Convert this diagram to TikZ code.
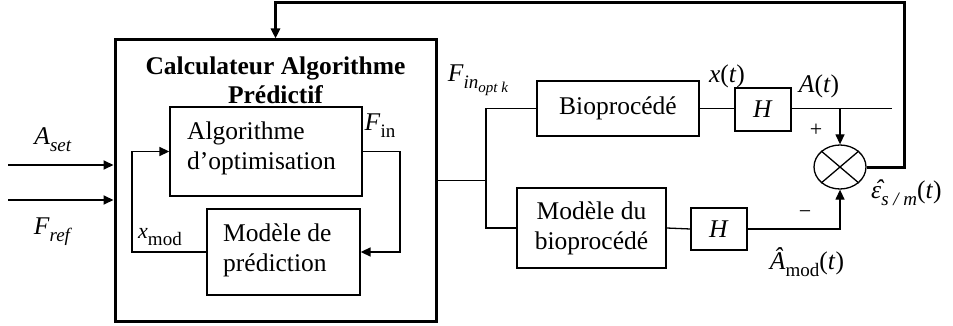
\documentclass[tikz,border=0pt]{standalone}
\usepackage{fontspec}
\setmainfont{Liberation Serif}
\usetikzlibrary{arrows.meta,shapes.geometric}
\newcommand{\lo}[1]{\raisebox{-0.28em}{\fontsize{19}{21}\selectfont #1}}
\newcommand{\lolo}[1]{\raisebox{-0.22em}{\fontsize{15}{17}\selectfont #1}}
\newcommand{\epshat}{\makebox[0pt][l]{\hspace{0.14em}\raisebox{0.02em}{\textit{ˆ}}}\textit{ε}}
\begin{document}
\begin{tikzpicture}[
    x=1pt, y=-1pt,
    line join=miter, >={Triangle[length=10pt,width=9pt]},
    every node/.style={font=\fontsize{25.5}{30}\selectfont},
    wire/.style={draw=black,line width=1.3pt},
    heavy/.style={draw=black,line width=3pt},
    blk/.style={draw=black,line width=1.3pt,rectangle,inner sep=0pt},
    lbl/.style={inner sep=0pt}
]
    \useasboundingbox (0,0) rectangle (953,326);

    % The outer computing block and its two inner boxes.
    \node[blk,heavy,minimum width=321pt,minimum height=281pt] (calc) at (275.5,180.5) {};
    \node[lbl,align=center,font=\fontsize{25.5}{29}\selectfont\bfseries] (title) at (275.5,80)
        {Calculateur Algorithme\\Prédictif};
    \node[blk,minimum width=192pt,minimum height=89pt] (algo) at (266,151.5) {};
    \node[lbl,align=left,anchor=west] (algotxt) at (187,148.5) {Algorithme\\d’optimisation};
    \node[blk,minimum width=153pt,minimum height=86pt] (pred) at (283.5,252) {};
    \node[lbl,align=left,anchor=west] (predtxt) at (223,250) {Modèle de\\prédiction};

    % Process branch and model branch.
    \node[blk,minimum width=162pt,minimum height=55pt] (bio) at (618,108.5) {Bioprocédé};
    \node[blk,minimum width=56pt,minimum height=43pt] (h1) at (763,109.5) {\textit{H}};
    \node[blk,minimum width=149pt,minimum height=80pt,align=center] (modbio) at (591.5,228)
        {Modèle du\\bioprocédé};
    \node[blk,minimum width=56pt,minimum height=42pt] (h2) at (719,229) {\textit{H}};
    \node[draw,ellipse,line width=1.3pt,minimum width=52pt,minimum height=44pt,inner sep=0pt] (sum) at (840,167) {};
    \draw[wire] (sum.north east)--(sum.south west) (sum.north west)--(sum.south east);

    \coordinate (aset) at (8,165);
    \coordinate (fref) at (8,200);
    \coordinate (loopr) at (400,152);
    \coordinate (loopl) at (132,252);
    \coordinate (split) at (486,180.5);
    \coordinate (aend) at (892,108.5);
    \coordinate (fb) at (904,3);

    % Signals.
    \draw[wire,line width=2pt,->] (aset) -- (aset -| calc.west);
    \draw[wire,line width=2pt,->] (fref) -- (fref -| calc.west);
    \draw[wire,line width=1.6pt,->] (algo.east) -| (loopr) |- (pred.east);
    \draw[wire,line width=1.6pt,->] (pred.west) -| (loopl) |- (algo.west);
    \draw[wire] (calc.east) -- (split);
    \draw[wire] (bio.west) -| (split) |- (modbio.west);
    \draw[wire] (bio.east) -- (bio.east -| h1.west);
    \draw[wire] (h1.east |- bio.east) -- (aend);
    \draw[wire,->] (sum.north |- bio.east) -- (sum.north);
    \draw[wire] (modbio.east) -- (h2.west);
    \draw[wire,->] (h2.east) -| (sum.south);
    \draw[heavy,->] (sum.east) -| (fb) -| (calc.north);

    % Labels.
    \node[lbl] (lset) at (53,140) {\textit{A}\lo{\textit{set}}};
    \node[lbl] (lref) at (53,232) {\textit{F}\lo{\textit{ref}}};
    \node[lbl] (lfin) at (380,126) {\textit{F}\lo{in}};
    \node[lbl] (lxmod) at (160,237) {\fontsize{22}{24}\selectfont\textit{x}\lo{mod}};
    \node[lbl] (lopt) at (478,80) {\textit{F}\lo{\textit{in}\lolo{\textit{opt k}}}};
    \node[lbl] (lx) at (727,76) {\textit{x}(\textit{t})};
    \node[lbl] (la) at (819,86) {\textit{A}(\textit{t})};
    \node[lbl] (lplus) at (816,130) {\fontsize{22}{24}\selectfont +};
    \node[lbl] (lminus) at (805,215) {\fontsize{22}{24}\selectfont −};
    \node[lbl] (lamod) at (807,262) {\textit{Â}\lo{mod}(\textit{t})};
    \node[lbl,anchor=west] (leps) at (871,193) {\epshat\lo{\textit{s / m}}(\textit{t})};
\end{tikzpicture}
\end{document}
